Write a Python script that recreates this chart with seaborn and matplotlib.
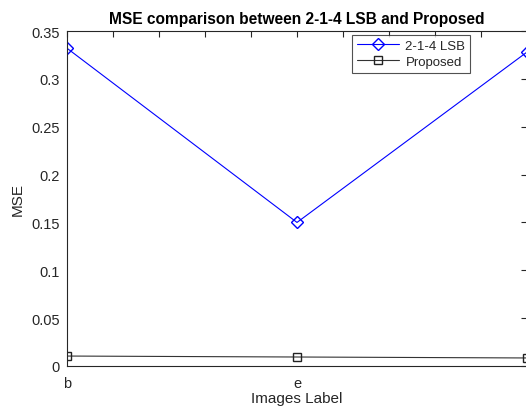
import matplotlib
matplotlib.use("Agg")
import matplotlib.pyplot as plt
import seaborn as sns
import numpy as np

# values (third image label is cropped out of view)
positions = [1, 2, 3]
image_labels = ["b", "e", ""]
mse_lsb = [0.332, 0.150, 0.328]
mse_proposed = [0.0104, 0.0094, 0.0084]

sns.set_style("white")
plt.rcParams['font.family'] = ['Liberation Sans', 'DejaVu Sans']

fig = plt.figure(figsize=(5.26, 4.10), dpi=100)
ax = fig.add_axes([67 / 526, 43 / 410, 460 / 526, 335 / 410])

sns.lineplot(x=positions, y=mse_lsb, ax=ax, color="#0000ff", linewidth=0.8,
             marker="D", markersize=6, markerfacecolor="none",
             markeredgecolor="#0000ff", markeredgewidth=1.0, label="2-1-4 LSB")
sns.lineplot(x=positions, y=mse_proposed, ax=ax, color="#333333", linewidth=0.8,
             marker="s", markersize=5.5, markerfacecolor="none",
             markeredgecolor="#222222", markeredgewidth=1.0, label="Proposed")

ax.set_xlim(1, 3)
ax.set_ylim(0, 0.35)
xt = np.round(np.arange(1, 3.01, 0.2), 2)
ax.set_xticks(xt)
ax.set_xticklabels([image_labels[int(round(v)) - 1] if abs(v - round(v)) < 1e-6 else "" for v in xt])
ax.set_yticks(np.round(np.arange(0, 0.351, 0.05), 2))
ax.set_yticklabels(["0", "0.05", "0.1", "0.15", "0.2", "0.25", "0.3", "0.35"])

ax.tick_params(direction="in", length=4, width=0.8, top=True, right=True,
               labelsize=10.5, colors="#262626", pad=5)
ax.tick_params(axis="x", pad=7)
for s in ax.spines.values():
    s.set_color("#262626")
    s.set_linewidth(0.8)

ax.set_xlabel("Images Label", fontsize=11, color="#262626", labelpad=1)
ax.set_ylabel("MSE", fontsize=11, color="#262626", labelpad=5)
ax.set_title("MSE comparison between 2-1-4 LSB and Proposed", fontsize=11.2,
             fontweight="bold", color="#000000", pad=6)

leg = ax.legend(loc="upper left", bbox_to_anchor=(352 / 526, 1 - 36 / 410),
                bbox_transform=fig.transFigure, fontsize=9.5, frameon=True,
                fancybox=False, borderpad=0.35, labelspacing=0.3,
                handlelength=3.2, handletextpad=0.5, borderaxespad=0)
leg.get_frame().set_edgecolor("#262626")
leg.get_frame().set_linewidth(0.8)

fig.savefig("out.png", dpi=100)
